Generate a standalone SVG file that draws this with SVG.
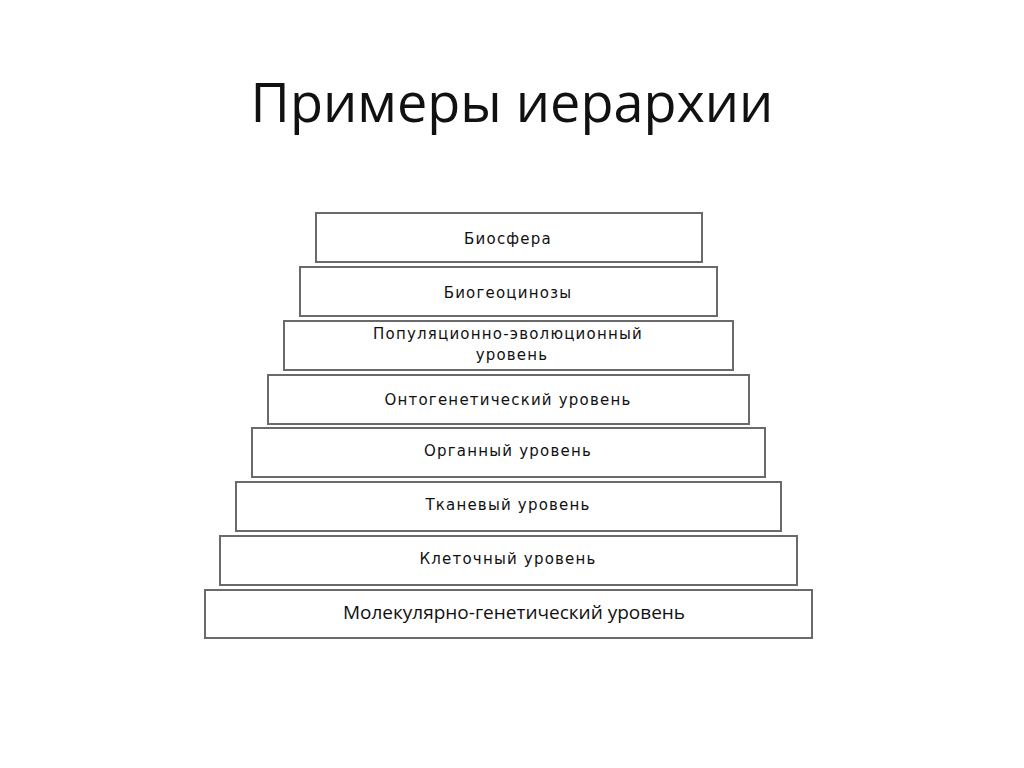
<svg xmlns="http://www.w3.org/2000/svg" width="1024" height="768" viewBox="0 0 1024 768">
<style>
.box{fill:#fff;stroke:#6a6a6a;stroke-width:2}
.t{font-family:"DejaVu Sans",sans-serif;font-size:15px;fill:#111;text-anchor:middle;letter-spacing:1.2px}
.tl{font-family:"Open Sans","Liberation Sans",sans-serif;font-size:19px;fill:#111;text-anchor:middle}
.title{font-family:"Open Sans","Liberation Sans",sans-serif;font-size:54px;fill:#111;text-anchor:middle}
</style>
<rect width="1024" height="768" fill="#fff"/>
<text class="title" x="512" y="122">Примеры иерархии</text>
<g id="n1"><rect class="box" x="316" y="213" width="386" height="49"/><text class="t" x="508" y="244">Биосфера</text></g>
<g id="n2"><rect class="box" x="300" y="267" width="417" height="49"/><text class="t" x="508" y="298">Биогеоцинозы</text></g>
<g id="n3"><rect class="box" x="284" y="321" width="449" height="49"/><text class="t" x="508" y="339">Популяционно-эволюционный</text><text class="t" x="512" y="360">уровень</text></g>
<g id="n4"><rect class="box" x="268" y="375" width="481" height="49"/><text class="t" x="508" y="405">Онтогенетический уровень</text></g>
<g id="n5"><rect class="box" x="252" y="428" width="513" height="49"/><text class="t" x="508" y="456">Органный уровень</text></g>
<g id="n6"><rect class="box" x="236" y="482" width="545" height="49"/><text class="t" x="508" y="510">Тканевый уровень</text></g>
<g id="n7"><rect class="box" x="220" y="536" width="577" height="49"/><text class="t" x="508" y="564">Клеточный уровень</text></g>
<g id="n8"><rect class="box" x="205" y="590" width="607" height="48"/><text class="tl" x="514" y="619">Молекулярно-генетический уровень</text></g>
<g id="connectors"/>
</svg>
